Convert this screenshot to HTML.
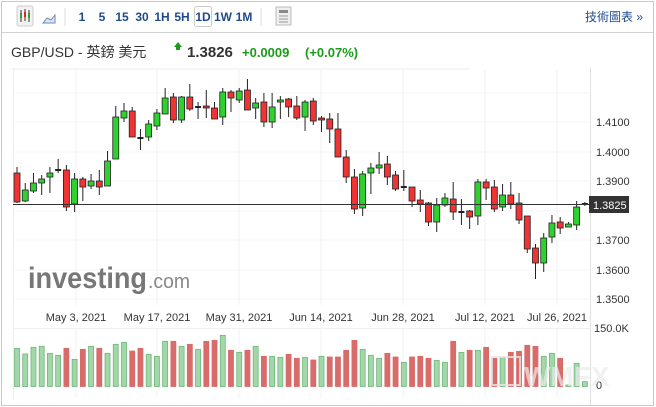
<!DOCTYPE html>
<html><head><meta charset="utf-8"><style>
body{margin:0;width:656px;height:407px;background:#fff;overflow:hidden;font-family:"Liberation Sans","Noto Sans CJK TC",sans-serif;}
svg{position:absolute;left:0;top:0}
</style></head><body>
<svg width="656" height="407" viewBox="0 0 656 407" xmlns="http://www.w3.org/2000/svg" font-family="Liberation Sans, Noto Sans CJK TC, sans-serif">
<rect x="1.5" y="1.5" width="652" height="404" fill="#fff" stroke="#c9c9c9"/>
<line x1="2" y1="32.5" x2="653" y2="32.5" stroke="#d0d0d0"/>
<rect x="17" y="6" width="16" height="20" fill="#f2f2f2" stroke="#ccc" rx="2"/>
<g stroke="#333" stroke-width="1"><line x1="21" y1="10" x2="21" y2="22"/><line x1="25" y1="9" x2="25" y2="21"/><line x1="29" y1="10" x2="29" y2="22"/></g>
<rect x="20" y="13" width="2" height="5" fill="#2a2"/><rect x="24" y="12" width="2" height="5" fill="#d22"/><rect x="28" y="13" width="2" height="5" fill="#2a2"/>
<path d="M43 23 L47 18 L51 20 L55 15 L55 23Z" fill="#dde6f2" stroke="#6d88b5"/>
<line x1="65" y1="8" x2="65" y2="26" stroke="#ddd"/>
<g fill="#1f4a8a" font-size="12" font-weight="bold" text-anchor="middle">
<text x="82" y="21">1</text><text x="102" y="21">5</text><text x="122" y="21">15</text><text x="142" y="21">30</text><text x="162" y="21">1H</text><text x="182" y="21">5H</text><text x="203" y="21">1D</text><text x="223" y="21">1W</text><text x="244" y="21">1M</text></g>
<rect x="194.5" y="6.5" width="17" height="20" fill="none" stroke="#ccc" rx="2"/>
<line x1="261" y1="8" x2="261" y2="26" stroke="#ddd"/>
<rect x="276" y="7" width="15" height="18" fill="#eee" stroke="#bbb"/>
<rect x="279" y="10" width="9" height="3" fill="#888"/><g stroke="#999"><line x1="279" y1="16" x2="288" y2="16"/><line x1="279" y1="19" x2="288" y2="19"/><line x1="279" y1="22" x2="288" y2="22"/></g>
<text x="585" y="21" fill="#1f4a8a" font-size="12">技術圖表 »</text>
<text x="11" y="57" fill="#333" font-size="14">GBP/USD - 英鎊 美元</text>
<path d="M174 47 L178 42 L182 47 L180 47 L180 50 L176 50 L176 47Z" fill="#1a9b1a"/>
<text x="187" y="57" fill="#333" font-size="15" font-weight="bold">1.3826</text>
<text x="242" y="57" fill="#1a9b1a" font-size="13" font-weight="bold">+0.0009</text>
<text x="305" y="57" fill="#1a9b1a" font-size="13" font-weight="bold">(+0.07%)</text>
<rect x="10.5" y="68.5" width="460" height="1" fill="#eee"/>
<line x1="590.5" y1="68" x2="590.5" y2="405" stroke="#e0e0e0"/>
<line x1="13.5" y1="68" x2="13.5" y2="400" stroke="#eee"/>
<g id="grid" stroke="#f3f3f3"></g>
<text x="28" y="288" fill="#777" font-size="30" font-weight="bold" textLength="119" lengthAdjust="spacingAndGlyphs">investing</text>
<text x="148" y="288" fill="#888" font-size="20" textLength="42" lengthAdjust="spacingAndGlyphs">.com</text>
<g id="cd"></g>
<line x1="13" y1="204.5" x2="590" y2="204.5" stroke="#333" stroke-width="1"/>
<line x1="590" y1="204.5" x2="594" y2="204.5" stroke="#333"/>
<g fill="#333" font-size="11">
<text x="596" y="126">1.4100</text><text x="596" y="156">1.4000</text><text x="596" y="185">1.3900</text><text x="596" y="244">1.3700</text><text x="596" y="274">1.3600</text><text x="596" y="303">1.3500</text>
<text x="594" y="332">150.0K</text><text x="596" y="389">0</text></g>
<rect x="589" y="196" width="40" height="17" fill="#333"/>
<text x="593" y="209" fill="#fff" font-size="11">1.3825</text>
<g fill="#333" font-size="11" text-anchor="middle">
<text x="76" y="321">May 3, 2021</text><text x="157" y="321">May 17, 2021</text><text x="239" y="321">May 31, 2021</text><text x="321" y="321">Jun 14, 2021</text><text x="403" y="321">Jun 28, 2021</text><text x="485" y="321">Jul 12, 2021</text><text x="557" y="321">Jul 26, 2021</text></g>
<line x1="13" y1="328.5" x2="590" y2="328.5" stroke="#f0f0f0"/>
<g id="vol"></g>
<rect x="492" y="357" width="28" height="28" fill="none" stroke="#e6e6e6" stroke-width="2" opacity="0.8"/>
<text x="524" y="386" fill="#ececec" font-size="28" font-weight="bold" opacity="0.7">WMFX</text>
</svg>
<script>
var c=[[173,202,167,203,0],[201,190,183,202,1],[191,183,173,193,1],[183,179,175,195,1],[177,173,167,193,1],[170,170,159,173,2],[170,207,165,211,0],[204,179,173,212,1],[179,187,177,201,0],[186,181,174,189,1],[181,187,170,195,0],[186,161,151,186,1],[159,117,106,159,1],[118,111,103,122,1],[111,137,107,137,0],[138,138,129,150,2],[137,124,120,141,1],[126,113,109,130,1],[114,98,88,114,1],[97,120,93,123,0],[120,97,96,123,1],[97,109,84,111,0],[107,107,102,119,2],[106,108,90,118,0],[108,119,102,119,0],[117,92,88,125,1],[92,98,90,112,0],[100,91,88,103,1],[90,110,79,110,0],[108,103,98,119,1],[102,122,93,127,0],[122,107,93,128,1],[102,100,96,119,1],[99,107,98,117,0],[106,118,96,120,0],[117,102,100,131,1],[101,121,98,125,0],[118,120,116,132,0],[119,129,113,143,0],[129,157,113,157,0],[157,177,150,183,0],[177,209,169,214,0],[208,174,171,216,1],[173,168,163,194,1],[168,165,152,174,1],[164,177,156,185,0],[175,189,171,191,0],[187,187,170,191,2],[187,201,187,207,0],[200,204,190,212,0],[203,222,202,226,0],[222,205,198,232,1],[205,198,193,207,1],[199,212,182,220,0],[212,212,199,225,2],[211,217,210,229,0],[216,182,179,225,1],[182,188,179,200,0],[187,209,180,212,0],[207,195,184,211,1],[195,204,182,209,0],[203,220,193,224,0],[216,249,216,253,0],[248,263,244,279,0],[263,238,233,272,1],[237,223,215,243,1],[222,228,217,234,0],[227,224,222,227,1],[225,207,201,230,1],[204,204,202,206,2]];
var v=[55,72,52,49,70,76,55,88,58,49,55,70,43,37,63,55,73,79,34,34,49,43,58,34,31,16,61,67,61,49,79,79,82,73,85,82,90,79,81,81,61,31,58,76,85,70,81,97,81,79,85,91,97,34,67,61,61,52,85,82,67,64,46,49,79,70,85,165,100,155];
var vc="GGGGGGRGRGRGGGRRGGGRGRGRRGRGRGRGGRRGRGRRRRGGGRRGRRRGGRGRGRRGRRRRGGRGGG";
(function(){
var s='',vs='',g='';
for(var i=0;i<c.length;i++){var x=17+i*8.23,d=c[i];
 s+='<line x1="'+x+'" y1="'+d[2]+'" x2="'+x+'" y2="'+d[3]+'" stroke="#222" stroke-width="1"/>';
 var t=Math.min(d[0],d[1]),h=Math.max(Math.abs(d[0]-d[1]),1.5);
 if(d[4]==2)s+='<rect x="'+(x-3)+'" y="'+(t-1)+'" width="6" height="2" fill="#222"/>';
 else s+='<rect x="'+(x-3)+'" y="'+t+'" width="6" height="'+h+'" fill="'+(d[4]?'#2ed12e':'#f03434')+'" stroke="#222" stroke-width="0.8"/>';
 var vt=330+v[i]/3,r=vc.charAt(i)=='R',col=r?'#d96b6b':'#a3d6a8',sc=r?'#d96b6b':'#6fb77a';
 vs+='<rect x="'+(x-2.5)+'" y="'+vt+'" width="5" height="'+(386.5-vt)+'" fill="'+col+'" stroke="'+sc+'" stroke-width="0.8"/>';}
document.getElementById('cd').innerHTML=s;document.getElementById('vol').innerHTML=vs;
[76,157,239,321,403,485,557].forEach(function(x){g+='<line x1="'+x+'" y1="70" x2="'+x+'" y2="305" stroke="#f2f2f2"/><line x1="'+x+'" y1="329" x2="'+x+'" y2="398" stroke="#f2f2f2"/>';});
[93,122,152,181,211,240,270,299].forEach(function(y){g+='<line x1="13" y1="'+y+'" x2="590" y2="'+y+'" stroke="#f4f4f4"/>';});
document.getElementById('grid').innerHTML=g;
})();
</script>
</body></html>
